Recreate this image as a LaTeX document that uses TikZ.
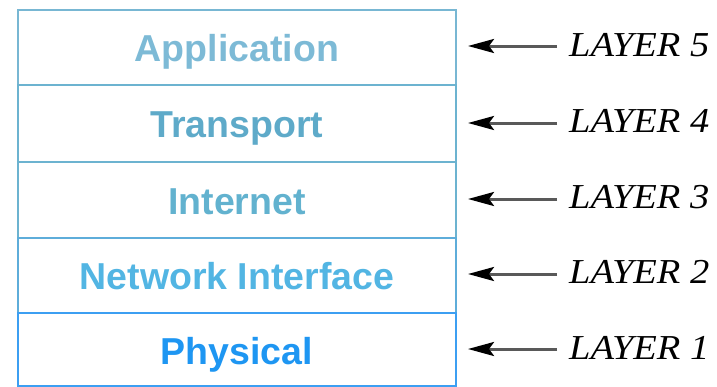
\documentclass[tikz,border=0pt]{standalone}
\usepackage{fontspec}
\setmainfont{Liberation Serif}
\newfontfamily\boxfont{Liberation Sans}
\newfontfamily\labelfont{Liberation Serif}[FakeStretch=1.1]
\usetikzlibrary{arrows.meta}
\definecolor{cApp}{HTML}{7DBAD6}
\definecolor{cTra}{HTML}{5EAAC9}
\definecolor{cInt}{HTML}{62B2CF}
\definecolor{cNet}{HTML}{52B5E3}
\definecolor{cPhy}{HTML}{1E96F2}
\definecolor{bApp}{HTML}{78B7D3}
\definecolor{bMid}{HTML}{6CB3D0}
\definecolor{bPhy}{HTML}{3C9FF2}
\tikzset{
  layerbox/.style={draw, line width=2pt, minimum width=438pt, inner sep=0pt, outer sep=0pt},
  layertext/.style={anchor=base, inner sep=0pt, font=\boxfont\bfseries\fontsize{37.5}{40}\selectfont},
  layerlabel/.style={anchor=base west, inner sep=0pt, font=\labelfont\itshape\fontsize{35}{40}\selectfont},
  pointer/.style={draw=gray!70!black, line width=3pt, -{Stealth[black,length=26pt,width=14pt,inset=5pt]}}
}
\begin{document}
\begin{tikzpicture}[x=1pt,y=-1pt]
\useasboundingbox (0,0) rectangle (717,386);
% boxes
\node[layerbox, draw=bApp, minimum height=75pt] (b5) at (237,47.5) {};
\node[layerbox, draw=bMid, minimum height=77pt] (b4) at (237,123.5) {};
\node[layerbox, draw=bMid, minimum height=76pt] (b3) at (237,200) {};
\node[layerbox, draw=bMid!70!bPhy, minimum height=75pt] (b2) at (237,275.5) {};
\node[layerbox, draw=bPhy, minimum height=73pt] (b1) at (237,349.5) {};
% texts
\node[layertext, text=cApp] (t5) at (237,61) {Application};
\node[layertext, text=cTra] (t4) at (237,137) {Transport};
\node[layertext, text=cInt] (t3) at (237,214) {Internet};
\node[layertext, text=cNet] (t2) at (237,289) {Network Interface};
\node[layertext, text=cPhy] (t1) at (237,364) {Physical};
% labels
\node[layerlabel] (l5) at (569,56) {LAYER 5};
\node[layerlabel] (l4) at (569,132) {LAYER 4};
\node[layerlabel] (l3) at (569,208) {LAYER 3};
\node[layerlabel] (l2) at (569,283) {LAYER 2};
\node[layerlabel] (l1) at (569,359) {LAYER 1};
% arrow anchors
\foreach \i/\y in {5/46,4/123,3/199,2/274,1/349}{
  \coordinate (s\i) at (557,\y);
  \coordinate (e\i) at (468,\y);
  \draw[pointer] (s\i) -- (e\i);
}
\end{tikzpicture}
\end{document}
